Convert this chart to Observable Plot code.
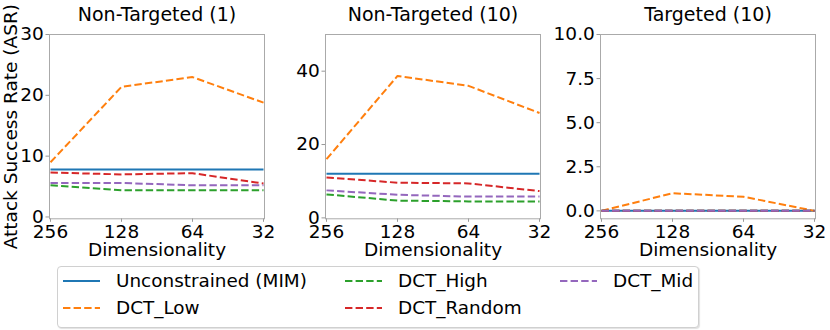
<!DOCTYPE html>
<html>
<head>
<meta charset="utf-8">
<script src="https://cdn.jsdelivr.net/npm/d3@7"></script>
<script src="https://cdn.jsdelivr.net/npm/@observablehq/plot@0.6"></script>
<style>
  html, body { margin: 0; padding: 0; background: #fff; }
  #wrap { position: relative; width: 830px; height: 330px; overflow: hidden; font-family: "DejaVu Sans", sans-serif; }
  #wrap svg { position: absolute; top: 0; }
  .legend { position: absolute; left: 56.5px; top: 266px; width: 640px; height: 60px; border: 1px solid #d0d0d0; border-radius: 4px; box-shadow: 1px 1px 1px rgba(0,0,0,0.12); background: #fff; }
  .entry { position: absolute; height: 22px; line-height: 22px; font-size: 18.4px; white-space: nowrap; color: #000; }
  .entry svg { position: absolute; left: 0; top: 0; }
  .entry span { position: absolute; top: 0; }
</style>
</head>
<body>
<div id="wrap"></div>
<script>
// ---- data ----
const dims = ["256", "128", "64", "32"];
const seriesNames = ["Unconstrained (MIM)", "DCT_Low", "DCT_High", "DCT_Random", "DCT_Mid"];
const seriesColors = ["#1f77b4", "#ff7f0e", "#2ca02c", "#d62728", "#9467bd"];
const seriesDashed = [false, true, true, true, true];
const panelTitles = ["Non-Targeted (1)", "Non-Targeted (10)", "Targeted (10)"];

// Non-Targeted (1)
const nt1_unconstrained = [7.8, 7.8, 7.8, 7.8];
const nt1_low = [9.0, 21.4, 23.0, 18.8];
const nt1_high = [5.2, 4.4, 4.4, 4.4];
const nt1_random = [7.3, 7.0, 7.2, 5.5];
const nt1_mid = [5.6, 5.6, 5.2, 5.2];

// Non-Targeted (10)
const nt10_unconstrained = [12.0, 12.0, 12.0, 12.0];
const nt10_low = [16.0, 38.7, 36.0, 28.6];
const nt10_high = [6.4, 4.7, 4.5, 4.5];
const nt10_random = [11.0, 9.6, 9.4, 7.3];
const nt10_mid = [7.5, 6.3, 5.8, 5.8];

// Targeted (10)
const t10_unconstrained = [0, 0, 0, 0];
const t10_low = [0, 1.0, 0.8, 0];
const t10_high = [0, 0, 0, 0];
const t10_random = [0, 0, 0, 0];
const t10_mid = [0, 0, 0, 0];

const yTicks1 = [0, 10, 20, 30];
const yTicks2 = [0, 20, 40];
const yTicks3 = [0, 2.5, 5, 7.5, 10];
const xLabel = "Dimensionality";
const yLabel = "Attack Success Rate (ASR)";

// ---- drawing ----
const wrap = document.getElementById("wrap");
const ML = 49, MR = 16, PW = 215, H = 260;

function panel(title, seriesValues, yDomain, yTicks, fmt, left, withYLabel) {
  const marks = [];
  marks.push(Plot.axisX({tickSize: 3.5, tickPadding: 2.2, fontSize: 18.5, stroke: "#999", fill: "#000", label: null}));
  marks.push(Plot.axisY({ticks: yTicks, tickFormat: fmt, tickSize: 3.5, tickPadding: 2.2, fontSize: 18.5, stroke: "#999", fill: "#000", label: null}));
  seriesValues.forEach((vals, i) => {
    const rows = dims.map((d, j) => ({dim: d, value: vals[j]}));
    marks.push(Plot.lineY(rows, {
      x: "dim", y: "value",
      stroke: seriesColors[i], strokeWidth: 2,
      strokeDasharray: seriesDashed[i] ? "7.4,3.2" : null,
      strokeLinecap: "butt"
    }));
  });
  marks.push(Plot.frame({stroke: "#aaaaaa", strokeWidth: 1}));
  marks.push(Plot.text([title], {frameAnchor: "top", textAnchor: "middle", lineAnchor: "bottom", dy: -14, fontSize: 19}));
  marks.push(Plot.text([xLabel], {frameAnchor: "bottom", textAnchor: "middle", lineAnchor: "bottom", dy: 37, fontSize: 18.5}));
  if (withYLabel) {
    marks.push(Plot.text([yLabel], {frameAnchor: "left", textAnchor: "middle", rotate: -90, lineAnchor: "middle", dx: -38, fontSize: 18.5}));
  }
  const svg = Plot.plot({
    width: ML + PW + MR, height: H,
    marginLeft: ML, marginRight: MR, marginTop: 34, marginBottom: H - 218.3,
    style: {fontFamily: "DejaVu Sans", fontSize: "18px", background: "transparent", overflow: "visible", color: "#000"},
    x: {type: "point", domain: dims, padding: 0, label: null},
    y: {domain: yDomain, label: null},
    marks
  });
  svg.style.left = (left - ML) + "px";
  wrap.appendChild(svg);
}

panel(panelTitles[0], [nt1_unconstrained, nt1_low, nt1_high, nt1_random, nt1_mid], [-0.3, 30], yTicks1, d3.format("d"), 49, true);
panel(panelTitles[1], [nt10_unconstrained, nt10_low, nt10_high, nt10_random, nt10_mid], [-0.25, 50], yTicks2, d3.format("d"), 325, false);
panel(panelTitles[2], [t10_unconstrained, t10_low, t10_high, t10_random, t10_mid], [-0.45, 10], yTicks3, d3.format(".1f"), 600, false);

// legend
const legend = document.createElement("div");
legend.className = "legend";
wrap.appendChild(legend);
const legendPos = [
  [63, 280.5], [63, 308], [345, 280.5], [345, 308], [560, 280.5]
];
seriesNames.forEach((name, i) => {
  const e = document.createElement("div");
  e.className = "entry";
  const [lx, ly] = legendPos[i];
  e.style.left = (lx - 57.5) + "px";
  e.style.top = (ly - 11 - 267) + "px";
  const dash = seriesDashed[i] ? ' stroke-dasharray="7.4,3.2"' : '';
  e.innerHTML = `<svg width="38" height="22"><line x1="0" x2="37" y1="11" y2="11" stroke="${seriesColors[i]}" stroke-width="2"${dash}/></svg><span style="left:${53}px">${name}</span>`;
  legend.appendChild(e);
});
</script>
</body>
</html>
